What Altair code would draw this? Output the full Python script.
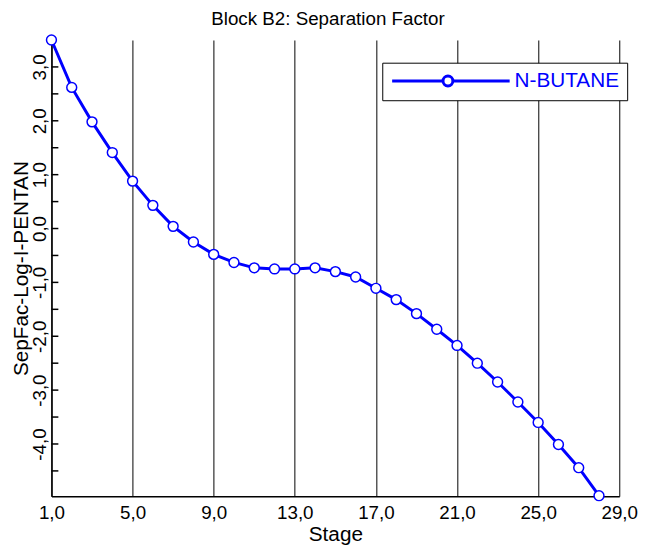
import altair as alt
import pandas as pd

# ---- data ----
stages = [1, 2, 3, 4, 5, 6, 7, 8, 9, 10, 11, 12, 13, 14,
          15, 16, 17, 18, 19, 20, 21, 22, 23, 24, 25, 26, 27, 28]
sepfac = [3.50, 2.62, 1.98, 1.41, 0.88, 0.43, 0.04, -0.25, -0.48, -0.63,
          -0.73, -0.75, -0.75, -0.73, -0.80, -0.90, -1.11, -1.32, -1.58,
          -1.87, -2.17, -2.50, -2.85, -3.22, -3.60, -4.01, -4.44, -4.96]
series_name = "N-BUTANE"
chart_title = "Block B2: Separation Factor"
x_tick_values = [1, 5, 9, 13, 17, 21, 25, 29]
y_label_values = [-4, -3, -2, -1, 0, 1, 2, 3]
y_tick_values = [-4.5, -4.0, -3.5, -3.0, -2.5, -2.0, -1.5, -1.0, -0.5,
                 0.0, 0.5, 1.0, 1.5, 2.0, 2.5, 3.0]
y_domain = [-4.97, 3.50]
x_domain = [1, 29]

FONT = "Liberation Sans"
BLUE = "#0000FF"

df = pd.DataFrame({"Stage": stages, "SepFac": sepfac,
                   "Series": [series_name] * len(stages)})
ticks_df = pd.DataFrame({"v": y_tick_values})
title_df = pd.DataFrame({"t": [chart_title]})

xs = alt.Scale(domain=x_domain, nice=False, zero=False)
ys = alt.Scale(domain=y_domain, nice=False, zero=False)

x_axis = alt.Axis(
    values=x_tick_values, grid=True, gridColor="black", gridOpacity=1, gridWidth=1,
    ticks=False, tickSize=0, labelExpr="datum.value + ',0'",
    labelFont=FONT, labelFontSize=19, labelColor="black", labelPadding=8,
    labelFlush=False, labelOverlap=False,
    domainColor="black", domainWidth=1.5,
    title="Stage", titleFont=FONT, titleFontSize=21, titleFontWeight="normal",
    titleColor="black", titleY=45, titleBaseline="alphabetic",
)
y_axis = alt.Axis(
    values=y_label_values, grid=False, ticks=False, tickSize=0,
    labelExpr="datum.value + ',0'",
    labelAngle=-90, labelPadding=2,
    labelFont=FONT, labelFontSize=19, labelColor="black",
    labelFlush=False, labelOverlap=False,
    domainColor="black", domainWidth=1.5,
    title="SepFac-Log-I-PENTAN", titleFont=FONT, titleFontSize=21,
    titleFontWeight="normal", titleColor="black", titleAngle=-90,
    titleX=-24, titleY=231, titleAlign="center", titleBaseline="alphabetic",
)

# line with an open circle in the middle; drawn at symbol scale 5 px per unit
legend_symbol = ("M-1.7,0L8.6,0M10.6,0L22.1,0"
                 "M8.6,0A1,1,0,1,1,10.6,0A1,1,0,1,1,8.6,0")

color = alt.Color(
    "Series:N",
    scale=alt.Scale(domain=[series_name], range=[BLUE]),
    legend=alt.Legend(
        title=None, orient="none", legendX=335, legendY=23,
        fillColor="white", strokeColor="black", padding=8,
        symbolType=legend_symbol, symbolSize=100, symbolStrokeWidth=3,
        symbolFillColor="white", symbolStrokeColor=BLUE,
        labelFont=FONT, labelFontSize=21, labelColor=BLUE, labelOffset=105,
    ),
)

line = alt.Chart(df).mark_line(strokeWidth=3).encode(
    x=alt.X("Stage:Q", scale=xs, axis=x_axis),
    y=alt.Y("SepFac:Q", scale=ys, axis=y_axis),
    color=color,
)
points = alt.Chart(df).mark_point(
    shape="circle", filled=True, fill="white", stroke=BLUE, strokeWidth=1.5,
    size=100, opacity=1,
).encode(x=alt.X("Stage:Q", scale=xs), y=alt.Y("SepFac:Q", scale=ys))

yticks = alt.Chart(ticks_df).mark_rule(color="black", strokeWidth=1.5).encode(
    y=alt.Y("v:Q", scale=ys), x=alt.value(0), x2=alt.value(7)
)

title_mark = alt.Chart(title_df).mark_text(
    font=FONT, fontSize=19, color="black", align="center", baseline="alphabetic"
).encode(text="t:N", x=alt.value(280), y=alt.value(-15))

chart = alt.layer(yticks, line, points, title_mark).properties(
    width=575, height=462,
    autosize="none",
    padding={"left": 44, "top": 29, "right": 22, "bottom": 47},
).configure_view(strokeWidth=0)

chart.save("out.html", embed_options={"renderer": "svg", "actions": False})
